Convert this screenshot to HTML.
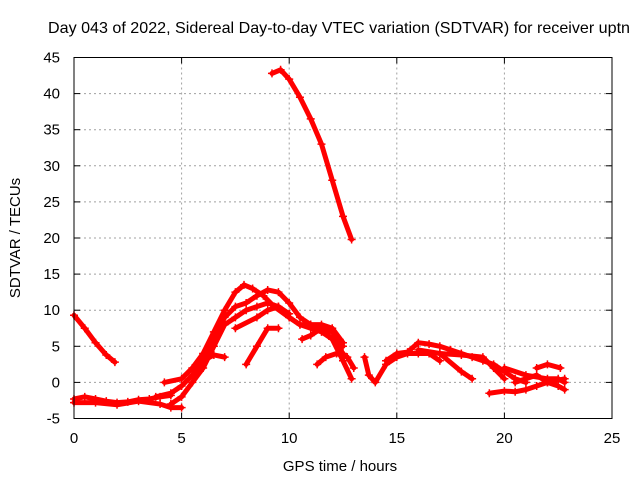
<!DOCTYPE html>
<html><head><meta charset="utf-8"><style>
html,body{margin:0;padding:0;background:#fff}
svg{display:block;font-family:"Liberation Sans",sans-serif}
</style></head><body>
<svg id="chart" width="640" height="480" viewBox="0 0 640 480" xmlns="http://www.w3.org/2000/svg">
<text x="48" y="33" font-size="16.1" fill="#000">Day 043 of 2022, Sidereal Day-to-day VTEC variation (SDTVAR) for receiver uptn</text>
<g id="grid"></g>
<g id="series"></g>
<rect x="74" y="57.5" width="538" height="361" fill="none" stroke="#000" stroke-width="1"/>
<g id="ticks"></g>
<text x="340" y="471" font-size="15" text-anchor="middle">GPS time / hours</text>
<text transform="translate(20,238) rotate(-90)" font-size="15" text-anchor="middle">SDTVAR / TECUs</text>
</svg>
<script>
const xTicks=[0,5,10,15,20,25];
const yTicks=[-5,0,5,10,15,20,25,30,35,40,45];
const s1=[[9.2,42.8],[9.6,43.3],[10,42],[10.5,39.5],[11,36.5],[11.5,33],[12,28],[12.5,23],[12.9,19.8]];
const s2=[[0,9.3],[0.5,7.5],[1,5.5],[1.5,3.8],[1.9,2.8]];
const s3=[[0,-2.3],[0.5,-2.0],[1,-2.3],[1.5,-2.6],[2,-2.8],[2.5,-2.7],[3,-2.4],[3.5,-2.3],[4,-2.0],[4.5,-1.8]];
const s4=[[0,-2.8],[1,-2.8],[2,-3.1],[3,-2.6],[4,-3.0],[4.5,-3.5],[5,-3.5]];
const s5=[[4.2,0],[5,0.5],[5.5,2],[6,4],[6.5,7],[7,10],[7.5,12.5],[7.9,13.5],[8.3,13],[8.8,12],[9.3,10.5],[10,9],[10.5,8],[11,8],[11.5,7.5],[12,6],[12.5,4]];
const s6=[[3.8,-2],[4.5,-1.5],[5,-0.5],[5.5,1],[6,3],[6.5,6],[7,9],[7.5,10.5],[8,11],[8.5,12],[9,12.8],[9.5,12.5],[10,11],[10.5,9],[11,8],[11.5,8],[12,7.5],[12.5,5.5]];
const s7=[[4.5,-3],[5,-2],[5.5,0],[6,2],[6.5,5],[7,8],[7.5,9],[8,10],[8.5,10.5],[9,11],[9.5,10.5],[10,9],[10.5,8],[11,7.5],[11.5,7],[12,6],[12.5,3],[12.9,0.5]];
const s8=[[6,3],[6.5,3.8],[7,3.5]];
const s9=[[8,2.5],[8.5,5],[9,7.5],[9.5,7.5]];
const s10=[[7.5,7.5],[8.5,9],[9,10],[9.5,10.5],[10,9.5]];
const s11=[[10.6,6],[11,6.5],[11.5,7.5],[12,7],[12.5,5]];
const s12=[[11.3,2.5],[11.7,3.5],[12.2,4],[12.7,3.5],[13,2]];
const s13=[[13.5,3.5],[13.7,1],[14,0],[14.5,2.5],[15,3.5],[15.5,4],[16,4],[16.5,4],[17,3]];
const s14=[[14.5,3],[15,4],[15.5,4.2],[16,5.5],[16.5,5.3],[17,5],[17.5,4.5],[18,4],[18.5,3.5],[19,3],[19.5,2.5],[20,1.5],[20.5,0.5],[21,0]];
const s15=[[16,4.5],[17,4],[18,1.5],[18.5,0.5]];
const s16=[[17,4],[18,3.8],[19,3.5],[19.5,2],[20,0.5]];
const s17=[[19.3,-1.5],[20,-1.2],[20.5,-1.3],[21,-1],[21.5,-0.5],[22,0],[22.5,-0.5],[22.8,-1]];
const s18=[[20,2],[21,1],[22,0.5],[22.5,0.5],[22.8,0]];
const s19=[[21.5,2],[22,2.5],[22.6,2]];
const s20=[[20.5,0],[21,0.5],[21.5,1],[22,0],[22.8,0.5]];
const allSeries=[s1,s2,s3,s4,s5,s6,s7,s8,s9,s10,s11,s12,s13,s14,s15,s16,s17,s18,s19,s20];

const NS="http://www.w3.org/2000/svg";
const X0=74,X1=612,Y0=418.5,Y1=57.5;
function xs(v){return X0+(v-0)/(25-0)*(X1-X0);}
function ys(v){return Y0-(v+5)/(45+5)*(Y0-Y1);}
function mk(t,a){const e=document.createElementNS(NS,t);for(const k in a)e.setAttribute(k,a[k]);return e;}
const grid=document.getElementById('grid'),ticks=document.getElementById('ticks'),ser=document.getElementById('series');
xTicks.forEach(v=>{
  const x=xs(v);
  if(v>0&&v<25){const g=mk('line',{x1:x,x2:x,y1:Y1,y2:Y0,stroke:'#a0a0a0','stroke-dasharray':'2,3'});
  
  grid.appendChild(g);}
  const t1=mk('line',{x1:x,x2:x,y1:Y0,y2:Y0-6,stroke:'#000'});
  
  ticks.appendChild(t1);
  const t2=mk('line',{x1:x,x2:x,y1:Y1,y2:Y1+6,stroke:'#000'});
  
  ticks.appendChild(t2);
  const l=mk('text',{x:x,y:443,'font-size':15,'text-anchor':'middle'});l.textContent=v;
  
  ticks.appendChild(l);
});
yTicks.forEach(v=>{
  const y=ys(v);
  if(v>-5&&v<45){const g=mk('line',{x1:X0,x2:X1,y1:y,y2:y,stroke:'#a0a0a0','stroke-dasharray':'2,3'});
  
  grid.appendChild(g);}
  const t1=mk('line',{x1:X0,x2:X0+6,y1:y,y2:y,stroke:'#000'});
  
  ticks.appendChild(t1);
  const t2=mk('line',{x1:X1,x2:X1-6,y1:y,y2:y,stroke:'#000'});
  
  ticks.appendChild(t2);
  const l=mk('text',{x:60,y:y+5,'font-size':15,'text-anchor':'end'});l.textContent=v;
  
  ticks.appendChild(l);
});
allSeries.forEach((s,i)=>{
  const p=mk('polyline',{points:s.map(d=>xs(d[0])+','+ys(d[1])).join(' '),fill:'none',stroke:'#f00','stroke-width':5,'stroke-linejoin':'round','stroke-linecap':'round'});
  
  
  ser.appendChild(p);
  s.forEach(d=>{
    const x=xs(d[0]),y=ys(d[1]);
    const m=mk('path',{d:`M${x-4},${y}H${x+4}M${x},${y-4}V${y+4}`,stroke:'#f00','stroke-width':1.5});
    
    
    ser.appendChild(m);
  });
});
</script>
</body></html>
